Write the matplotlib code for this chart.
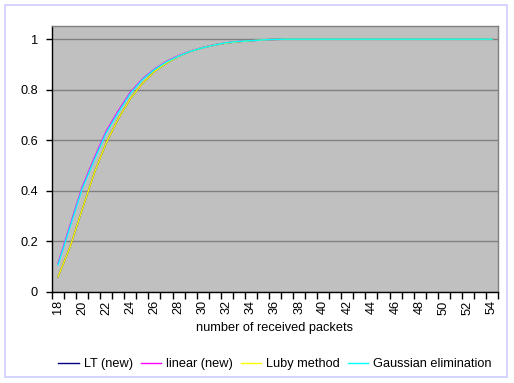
import matplotlib
matplotlib.use("Agg")
import matplotlib.pyplot as plt
from matplotlib.patches import Rectangle

plt.rcParams['font.family'] = ['Liberation Sans', 'DejaVu Sans']

packets = list(range(18, 55))
tail = [1.0] * (54 - 36)

lt_new = [0.06, 0.178, 0.326, 0.47, 0.59, 0.685, 0.765, 0.825, 0.872, 0.905,
          0.932, 0.952, 0.966, 0.977, 0.985, 0.99, 0.994, 0.997, 0.999] + tail
linear_new = [0.113, 0.265, 0.415, 0.53, 0.637, 0.717, 0.79, 0.843, 0.882, 0.912,
              0.935, 0.953, 0.967, 0.978, 0.986, 0.991, 0.994, 0.997, 0.999] + tail
luby = [0.06, 0.178, 0.326, 0.47, 0.59, 0.685, 0.765, 0.825, 0.872, 0.905,
        0.932, 0.952, 0.966, 0.977, 0.985, 0.99, 0.994, 0.997, 0.999] + tail
gaussian = [0.107, 0.258, 0.408, 0.522, 0.63, 0.71, 0.785, 0.84, 0.88, 0.91,
            0.933, 0.952, 0.966, 0.977, 0.986, 0.991, 0.994, 0.997, 0.999] + tail

series = [("LT (new)", lt_new, "#000080"),
          ("linear (new)", linear_new, "#FF00FF"),
          ("Luby method", luby, "#FFFF00"),
          ("Gaussian elimination", gaussian, "#00FFFF")]

FS = 9.2
W, H = 514, 383
fig = plt.figure(figsize=(W / 100, H / 100), dpi=100)
fig.patch.set_facecolor("white")
fig.patches.append(Rectangle((5 / W, 1 - 377 / H), (507 - 5) / W, (377 - 5) / H,
                             transform=fig.transFigure, fill=False,
                             edgecolor="#ccccff", linewidth=1.2))

ax = fig.add_axes([52 / W, 1 - 292 / H, (498 - 52) / W, (292 - 26) / H])
ax.set_facecolor("#C0C0C0")

for name, vals, col in series:
    ax.plot(packets, vals, color=col, linewidth=1.0, label=name)

ax.set_xlim(17.5, 54.5)
ax.set_ylim(0, 1.052)

yt = [0, 0.2, 0.4, 0.6, 0.8, 1.0]
ax.set_yticks(yt)
ax.set_yticklabels(["0", "0.2", "0.4", "0.6", "0.8", "1"], fontsize=FS)
ax.yaxis.grid(True, color="#808080", linewidth=1.0)
ax.set_axisbelow(True)

ax.set_xticks([x + 0.5 for x in range(17, 55)])
ax.set_xticklabels([])
ax.set_xticks(list(range(18, 55, 2)), minor=True)
ax.set_xticklabels([str(v) for v in range(18, 55, 2)], minor=True,
                   rotation=90, fontsize=FS)
ax.tick_params(axis='x', which='major', length=5, width=1, direction='out')
ax.tick_params(axis='x', which='minor', length=0, pad=6)
ax.tick_params(axis='y', length=4, width=1, direction='out', pad=6)

for s in ("left", "bottom"):
    ax.spines[s].set_color("black")
    ax.spines[s].set_linewidth(1.0)
for s in ("top", "right"):
    ax.spines[s].set_color("#808080")
    ax.spines[s].set_linewidth(1.0)

ax.set_xlabel("number of received packets", fontsize=FS, labelpad=5)

fig.legend(loc="center", bbox_to_anchor=(0.535, 1 - 364 / H), ncol=4,
           frameon=False, fontsize=FS, handlelength=1.6, handletextpad=0.4,
           columnspacing=0.6)

fig.savefig("out.png", dpi=100)
